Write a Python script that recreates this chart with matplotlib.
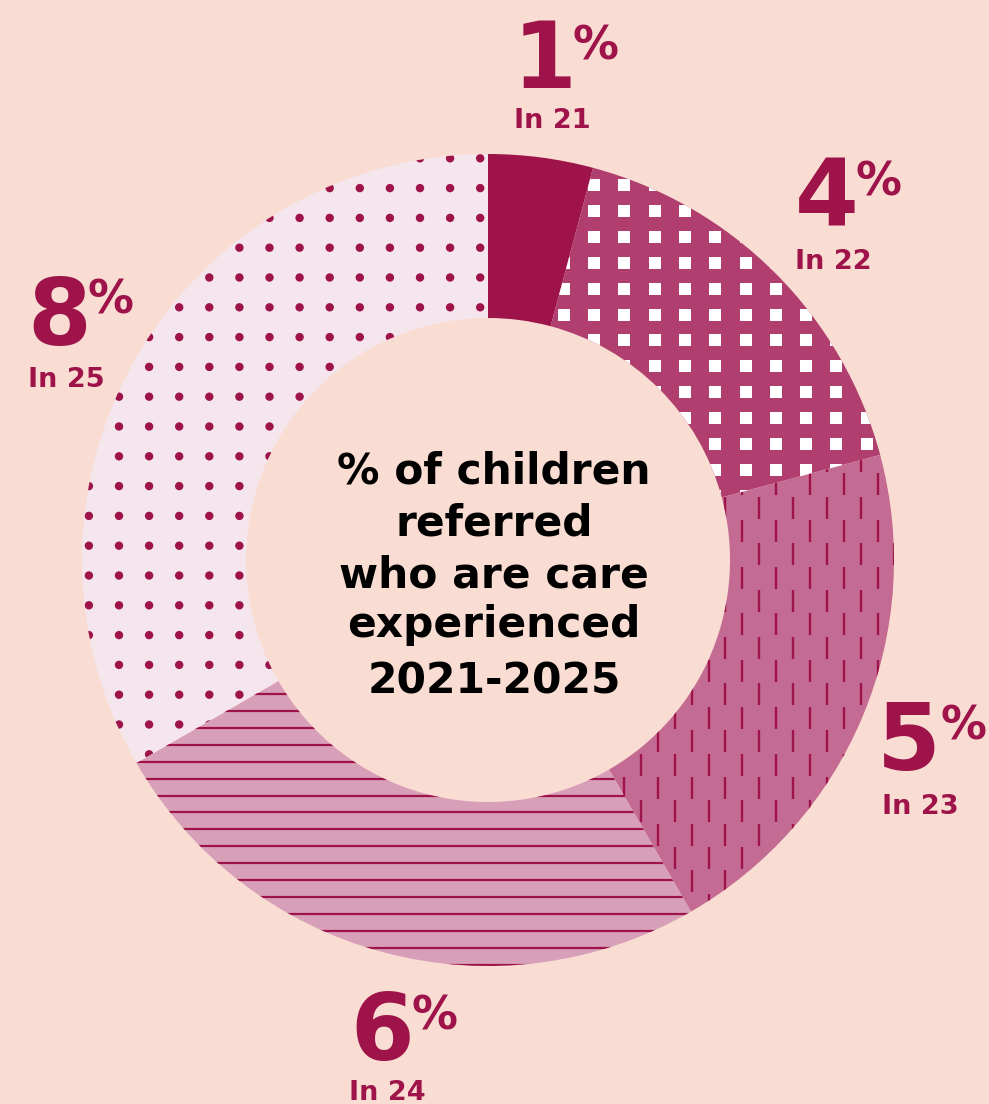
import matplotlib
matplotlib.use('Agg')
import matplotlib.pyplot as plt
import numpy as np
from matplotlib.collections import PatchCollection, LineCollection
from matplotlib.patches import Rectangle, Circle

# ---- data ----
values = [1, 4, 5, 6, 8]
years = ['21', '22', '23', '24', '25']
number_labels = [str(v) for v in values]
sub_labels = ['In ' + y for y in years]
center_lines = ['% of children', 'referred', 'who are care', 'experienced', '2021-2025']

# ---- style / layout ----
W, H = 989, 1104
BG = '#F9DCD2'
DARK = '#9E1349'
slice_colors = ['#9E1349', '#B03E6E', '#C46B93', '#D8A0B8', '#F4E6EC']
FONT = ['DejaVu Sans']

fig = plt.figure(figsize=(W / 100, H / 100), dpi=100, facecolor=BG)
ax = fig.add_axes([0, 0, 1, 1])
ax.set_facecolor(BG)


def Y(y):
    return H - y


cx, cy = 488, 560
R_out, R_in = 406, 242
wedges, _ = ax.pie(values, radius=R_out, center=(cx, Y(cy)), startangle=90,
                   counterclock=False, colors=slice_colors,
                   wedgeprops=dict(width=R_out - R_in, linewidth=0))
ax.set_xlim(0, W)
ax.set_ylim(0, H)
ax.set_aspect('auto')
ax.axis('off')

# ---- fill patterns (decoration clipped to wedges) ----
# slice 2: white squares
sq = []
for j in range(-10, 40):
    for k in range(-25, 20):
        x = 588 + 30.3 * k
        y = 179 + 25.9 * j
        if 60 < x < 920 and 120 < y < 1000:
            sq.append(Rectangle((x, Y(y + 12)), 12, 12))
pc = PatchCollection(sq, facecolor='white', edgecolor='none', zorder=3)
ax.add_collection(pc)
pc.set_clip_path(wedges[1])

# slice 3: vertical dashes
segs = []
for k in range(-45, 15):
    x = 742.3 + 16.9 * k
    if not (60 < x < 920):
        continue
    start = 520 - 23.35 * (k % 2)
    for j in range(-12, 12):
        y0 = start + 46.7 * j
        segs.append([(x, Y(y0)), (x, Y(y0 + 22))])
lc = LineCollection(segs, colors=DARK, linewidths=1.7, capstyle='butt', zorder=3)
ax.add_collection(lc)
lc.set_clip_path(wedges[2])

# slice 4: horizontal lines
hsegs = []
for j in range(-40, 20):
    y = 711 + 16.9 * j
    if 120 < y < 1000:
        hsegs.append([(60, Y(y)), (920, Y(y))])
hl = LineCollection(hsegs, colors=DARK, linewidths=1.6, capstyle='butt', zorder=3)
ax.add_collection(hl)
hl.set_clip_path(wedges[3])

# slice 5: dots
dots = []
for j in range(-5, 35):
    for k in range(-5, 35):
        x = 119 + 30.1 * k
        y = 158.3 + 29.8 * j
        if 60 < x < 920 and 120 < y < 1000:
            dots.append(Circle((x, Y(y)), 4.2))
dc = PatchCollection(dots, facecolor=DARK, edgecolor='none', zorder=3)
ax.add_collection(dc)
dc.set_clip_path(wedges[4])

# ---- labels ----
num_pos = [(513, 88), (795, 225), (877, 770), (350, 1060), (27, 345)]
pct_base = [59, 195, 740, 1030, 313]
pct_gap = [-4, -3, 0, -2, -3]
sub_pos = [(514, 128), (795, 269), (882, 814), (349, 1100), (28, 387)]

renderer = fig.canvas.get_renderer()
for i in range(len(values)):
    t = ax.text(num_pos[i][0], Y(num_pos[i][1]), number_labels[i], family=FONT,
                fontweight='bold', fontsize=66, color=DARK, ha='left', va='baseline', zorder=5)
    ext = t.get_window_extent(renderer)
    ax.text(ext.x1 + pct_gap[i], Y(pct_base[i]), '%', family=FONT,
            fontweight='bold', fontsize=33, color=DARK, ha='left', va='baseline', zorder=5)
    ax.text(sub_pos[i][0], Y(sub_pos[i][1]), sub_labels[i], family=FONT,
            fontweight='bold', fontsize=19.5, color=DARK, ha='left', va='baseline', zorder=5)

base_y = [483, 535, 588, 637, 693]
for line, by in zip(center_lines, base_y):
    ax.text(494, Y(by), line, family=FONT, fontweight='bold', fontsize=30.5,
            color='black', ha='center', va='baseline', zorder=5)

fig.savefig('out.png', dpi=100, facecolor=BG)
